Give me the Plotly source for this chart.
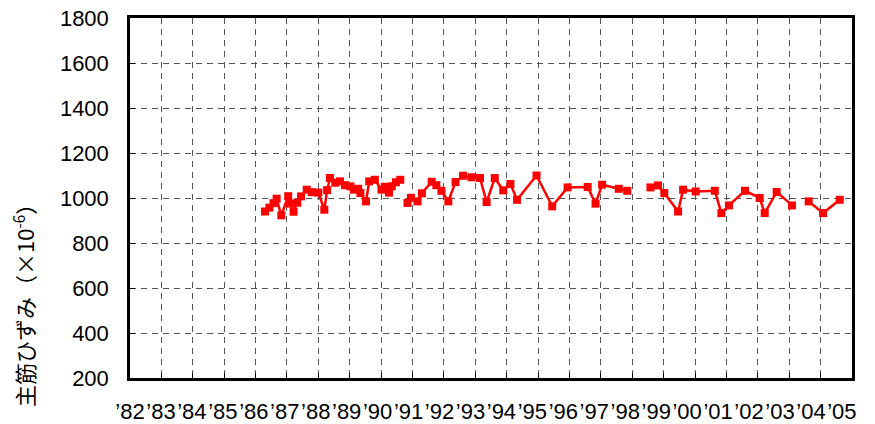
import plotly.graph_objects as go

# Measurement dates (fractional year) and main rebar strain (x10^-6); None = break in record
years = [1986.30, 1986.44, 1986.57, 1986.67, 1986.82, 1987.04, 1987.10, 1987.21, 1987.33, 1987.45,
         1987.63, 1987.79, 1988.00, 1988.19, 1988.28, 1988.37, 1988.54, 1988.69, 1988.85, 1989.02,
         1989.13, 1989.27, 1989.34, 1989.52, 1989.62, 1989.80, 1990.01, 1990.12, 1990.25, 1990.34,
         1990.47, 1990.61, 1990.72,
         1990.84, 1990.95, 1991.16, 1991.30, 1991.61, 1991.76, 1991.92, 1992.14, 1992.37, 1992.61,
         1992.88, 1993.15, 1993.36, 1993.62, 1993.89, 1994.12, 1994.33, 1994.95, 1995.45, 1995.94,
         1996.58, 1996.83, 1997.04, 1997.57, 1997.84, 1998.20,
         1998.58, 1998.82, 1999.02, 1999.46, 1999.62, 2000.02, 2000.63, 2000.84, 2001.08, 2001.59,
         2002.06, 2002.22, 2002.60, 2003.09, 2003.35,
         2003.62, 2004.08, 2004.61]
strain = [940, 957, 977, 997, 923, 1008, 975, 939, 979, 1007,
          1037, 1026, 1024, 948, 1035, 1089, 1068, 1074, 1057, 1052,
          1037, 1041, 1022, 985, 1074, 1081, 1037, 1050, 1024, 1052,
          1070, 1081, None,
          978, 1001, 985, 1021, 1072, 1057, 1032, 985, 1071, 1099,
          1092, 1089, 982, 1089, 1034, 1062, 992, 1100, 963, 1047,
          1049, 975, 1059, 1041, 1032, None,
          1047, 1056, 1022, 940, 1037, 1029, 1032, 933, 967, 1032,
          1000, 933, 1027, 967, None,
          985, 933, 992]

tick_years = list(range(1982, 2006))
tick_labels = ["’%02d" % (y % 100) for y in tick_years]
label_pos = [1982 + (y - 1982) * 0.986 for y in tick_years]

y_ticks = list(range(200, 1801, 200))

font_main = "Liberation Sans, Arial, sans-serif"

fig = go.Figure()
fig.add_trace(go.Scatter(
    x=years, y=strain, mode="lines+markers",
    line=dict(color="#FF0000", width=2.5),
    marker=dict(symbol="square", size=8, color="#FF0000"),
    connectgaps=False, showlegend=False, xaxis="x", yaxis="y"))
# invisible trace to activate the label axis
fig.add_trace(go.Scatter(x=[1982, 2005], y=[None, None], xaxis="x2", yaxis="y",
                         showlegend=False, hoverinfo="skip"))

fig.update_layout(
    width=875, height=424,
    margin=dict(l=130, r=23, t=18, b=46),
    paper_bgcolor="white", plot_bgcolor="white",
    font=dict(family=font_main, size=22, color="black"),
    xaxis=dict(range=[1982, 2005], tickvals=tick_years, showticklabels=False,
               ticks="inside", ticklen=5, tickwidth=1, tickcolor="black",
               showgrid=True, gridcolor="#555", griddash="6px,5px", gridwidth=1.2,
               showline=True, linecolor="black", linewidth=2.5, mirror=True,
               zeroline=False, automargin=False),
    xaxis2=dict(range=[1982, 2005], overlaying="x", anchor="y", side="bottom",
                tickvals=label_pos, ticktext=tick_labels, ticks="", tickangle=0,
                showgrid=False, showline=False, zeroline=False, automargin=False,
                ticklabelstandoff=18, tickfont=dict(size=22)),
    yaxis=dict(range=[200, 1800], tickvals=y_ticks,
               ticks="inside", ticklen=5, tickwidth=1, tickcolor="black",
               showgrid=True, gridcolor="#555", griddash="6px,5px", gridwidth=1.2,
               showline=True, linecolor="black", linewidth=2.5, mirror=True,
               zeroline=False, automargin=False, ticklabelstandoff=14,
               tickfont=dict(size=22)),
    annotations=[dict(
        text="主筋ひずみ（×10<sup>-6</sup>）", textangle=-90,
        xref="paper", yref="paper", x=(23 - 130) / 722, y=(378 - 300) / 360,
        xanchor="center", yanchor="middle", showarrow=False,
        font=dict(family="Noto Sans CJK JP", size=22, color="black"))],
)

fig.write_html("out.html")
